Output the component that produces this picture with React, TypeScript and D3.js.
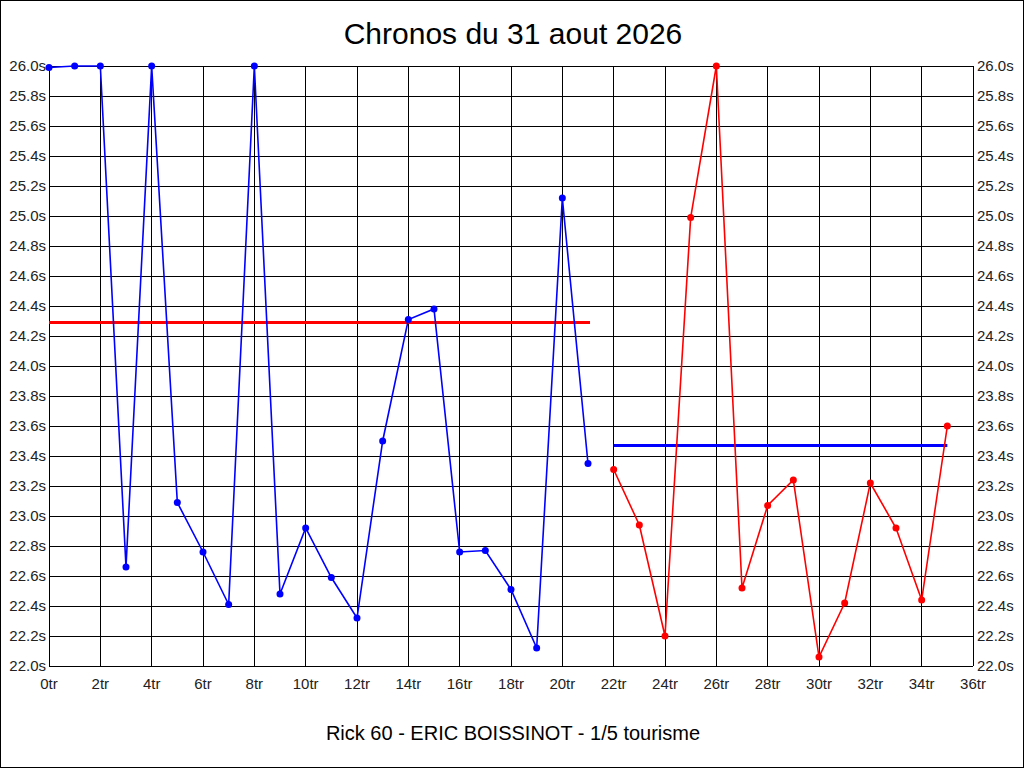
import React, { useRef, useEffect } from 'react';
import * as d3 from 'd3';

// lap times, first half (blue) and second half (red)
const blueLaps = [0, 1, 2, 3, 4, 5, 6, 7, 8, 9, 10, 11, 12, 13, 14, 15, 16, 17, 18, 19, 20, 21];
const blueTimes = [25.99, 26.0, 26.0, 22.66, 26.0, 23.09, 22.76, 22.41, 26.0, 22.48, 22.92, 22.59, 22.32, 23.50, 24.31, 24.38, 22.76, 22.77, 22.51, 22.12, 25.12, 23.35];
const redLaps = [22, 23, 24, 25, 26, 27, 28, 29, 30, 31, 32, 33, 34, 35];
const redTimes = [23.31, 22.94, 22.20, 24.99, 26.0, 22.52, 23.07, 23.24, 22.06, 22.42, 23.22, 22.92, 22.44, 23.60];
// horizontal reference lines
const redRef = { from: 0, to: 21, value: 24.29 };
const blueRef = { from: 22, to: 35, value: 23.47 };

const xTicks = d3.range(0, 37, 2);
const yTicks = d3.range(0, 21).map(i => +(22 + i * 0.2).toFixed(1));

const title = 'Chronos du 31 aout 2026';
const subtitle = 'Rick 60 - ERIC BOISSINOT - 1/5 tourisme';

export default function App() {
  const ref = useRef<SVGSVGElement>(null);
  const width = 1024;
  const height = 768;

  useEffect(() => {
    if (!ref.current) return;
    const svg = d3.select(ref.current);
    svg.selectAll('*').remove();

    const x = d3.scaleLinear().domain([0, 36]).range([49, 973]);
    const y = d3.scaleLinear().domain([22, 26]).range([666, 66]);
    const font = 'Arial, "Liberation Sans", sans-serif';

    svg.append('rect')
      .attr('x', 0.5).attr('y', 0.5)
      .attr('width', width - 1).attr('height', height - 1)
      .attr('fill', '#fff').attr('stroke', '#000');

    // grid
    const grid = svg.append('g').attr('stroke', '#000').attr('stroke-width', 1).attr('shape-rendering', 'crispEdges');
    grid.selectAll('line.v').data(xTicks).join('line')
      .attr('class', 'v')
      .attr('x1', d => x(d)).attr('x2', d => x(d))
      .attr('y1', y(26)).attr('y2', y(22));
    grid.selectAll('line.h').data(yTicks).join('line')
      .attr('class', 'h')
      .attr('x1', x(0)).attr('x2', x(36))
      .attr('y1', d => y(d)).attr('y2', d => y(d));

    // axis labels
    const labels = svg.append('g').style('font', `15px ${font}`).attr('fill', '#222');
    labels.selectAll('text.yl').data(yTicks).join('text')
      .attr('class', 'yl')
      .attr('x', x(0) - 3).attr('y', d => y(d) + 5)
      .attr('text-anchor', 'end')
      .text(d => d.toFixed(1) + 's');
    labels.selectAll('text.yr').data(yTicks).join('text')
      .attr('class', 'yr')
      .attr('x', x(36) + 4).attr('y', d => y(d) + 5)
      .text(d => d.toFixed(1) + 's');
    labels.selectAll('text.xl').data(xTicks).join('text')
      .attr('class', 'xl')
      .attr('x', d => x(d)).attr('y', 689)
      .attr('text-anchor', 'middle')
      .text(d => d + 'tr');

    // reference lines
    svg.append('line')
      .attr('x1', x(redRef.from)).attr('x2', x(redRef.to) + 2)
      .attr('y1', y(redRef.value)).attr('y2', y(redRef.value))
      .attr('stroke', '#f00').attr('stroke-width', 3);
    svg.append('line')
      .attr('x1', x(blueRef.from)).attr('x2', x(blueRef.to))
      .attr('y1', y(blueRef.value)).attr('y2', y(blueRef.value))
      .attr('stroke', '#00f').attr('stroke-width', 3);

    const line = d3.line<[number, number]>().x(d => x(d[0])).y(d => y(d[1]));
    const series = [
      { laps: blueLaps, times: blueTimes, color: '#00f' },
      { laps: redLaps, times: redTimes, color: '#f00' },
    ];
    series.forEach(s => {
      const pts: [number, number][] = s.laps.map((l, i) => [l, s.times[i]]);
      svg.append('path')
        .datum(pts)
        .attr('d', line)
        .attr('fill', 'none')
        .attr('stroke', s.color)
        .attr('stroke-width', 1.6);
      svg.append('g').selectAll('circle').data(pts).join('circle')
        .attr('cx', d => x(d[0])).attr('cy', d => y(d[1]))
        .attr('r', 3.5)
        .attr('fill', s.color);
    });

    svg.append('text')
      .attr('x', width / 2 + 1).attr('y', 44)
      .attr('text-anchor', 'middle')
      .style('font', `30px ${font}`)
      .attr('fill', '#000')
      .text(title);
    svg.append('text')
      .attr('x', width / 2 + 1).attr('y', 740)
      .attr('text-anchor', 'middle')
      .style('font', `20px ${font}`)
      .attr('fill', '#000')
      .text(subtitle);
  }, []);

  return (
    <svg
      ref={ref}
      width={width}
      height={height}
      style={{ position: 'fixed', left: 0, top: 0, display: 'block' }}
    />
  );
}
